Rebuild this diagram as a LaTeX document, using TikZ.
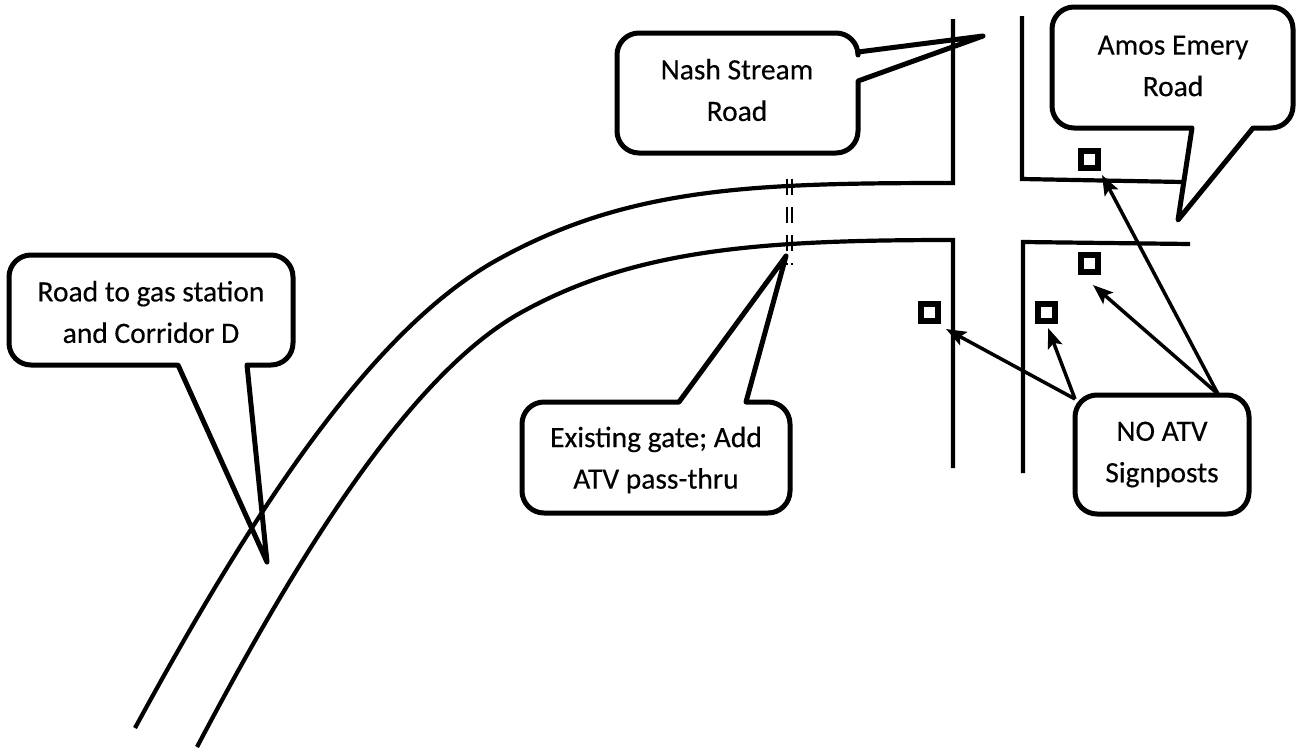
\documentclass[tikz,border=0pt]{standalone}
\usepackage{fontspec}
\setmainfont{Carlito}
\newfontfamily\lblfont{Carlito}[FakeBold=0.35]
\usetikzlibrary{arrows.meta}
\begin{document}
\begin{tikzpicture}[x=1pt,y=-1pt,
  road/.style={line width=4.2pt, line join=miter},
  callout/.style={line width=5pt, line join=round},
  lbl/.style={font=\lblfont\fontsize{29.5}{41.5}\selectfont, align=center, inner sep=0pt},
  signpost/.style={draw, line width=6pt, minimum size=17pt, inner sep=0pt},
  pointer/.style={line width=3.5pt, -{Stealth[length=20pt,width=15pt,inset=4pt]}},
  gateline/.style={line width=1.7pt, dash pattern=on 16pt off 12pt}]
\useasboundingbox (0,0) rectangle (1297,750);

% roads
\draw[road] (953,19) -- (953,183) .. controls (753,183) and (628,187) .. (497,260) .. controls (366,333) and (245,526) .. (135,728);
\draw[road] (953,468) -- (953,240) .. controls (760,240) and (636,249) .. (522,312) .. controls (408,375) and (295,561) .. (197,747);
\draw[road] (1022,16) -- (1022,179) -- (1183,182);
\draw[road] (1023,473) -- (1023,242) -- (1190,244);

% gate
\draw[gateline] (787.3,179) -- (787.3,265);
\draw[gateline] (791.7,179) -- (791.7,265);

% callouts
\draw[callout] (858,52) -- (983,36) -- (858,81) -- (858,131)
  arc[start angle=0,end angle=90,radius=22] -- (639,153)
  arc[start angle=90,end angle=180,radius=22] -- (617,55)
  arc[start angle=180,end angle=270,radius=22] -- (836,33)
  arc[start angle=270,end angle=360,radius=22] -- cycle;
\node[lbl] (nash) at (737,90) {Nash Stream\\Road};

\draw[callout] (1253,128) -- (1178,220) -- (1192,128) -- (1074,128)
  arc[start angle=90,end angle=180,radius=22] -- (1052,29)
  arc[start angle=180,end angle=270,radius=22] -- (1271,7)
  arc[start angle=270,end angle=360,radius=22] -- (1293,106)
  arc[start angle=0,end angle=90,radius=22] -- cycle;
\node[lbl] (amos) at (1173,66) {Amos Emery\\Road};

\draw[callout] (679,402) -- (786,256) -- (746,402) -- (768,402)
  arc[start angle=270,end angle=360,radius=22] -- (790,491)
  arc[start angle=0,end angle=90,radius=22] -- (544,513)
  arc[start angle=90,end angle=180,radius=22] -- (522,424)
  arc[start angle=180,end angle=270,radius=22] -- cycle;
\node[lbl] (gate) at (656,460) {Existing gate; Add\\ATV pass-thru};

\draw[callout] (247,365) -- (267,562) -- (178,365) -- (31,365)
  arc[start angle=90,end angle=180,radius=22] -- (9,277)
  arc[start angle=180,end angle=270,radius=22] -- (271,255)
  arc[start angle=270,end angle=360,radius=22] -- (293,343)
  arc[start angle=0,end angle=90,radius=22] -- cycle;
\node[lbl] (gas) at (151,312) {Road to gas station\\and Corridor D};

\node[lbl, draw, line width=5pt, rounded corners=22pt, minimum width=174pt, minimum height=119pt] (noatv) at (1162,454.5) {NO ATV\\Signposts};

% signposts
\node[signpost] (s1) at (1089,159) {};
\node[signpost] (s2) at (1089,263) {};
\node[signpost] (s3) at (929,312) {};
\node[signpost] (s4) at (1046,312) {};

\coordinate (na1) at (1075,399);
\coordinate (na2) at (1218,394);
\coordinate (t1) at (1102,175);
\coordinate (t2) at (1093,285);
\coordinate (t3) at (946,329);
\coordinate (t4) at (1048,328);
\draw[pointer] (na2) -- (t1);
\draw[pointer] (na2) -- (t2);
\draw[pointer] (na1) -- (t3);
\draw[pointer] (na1) -- (t4);
\end{tikzpicture}
\end{document}
